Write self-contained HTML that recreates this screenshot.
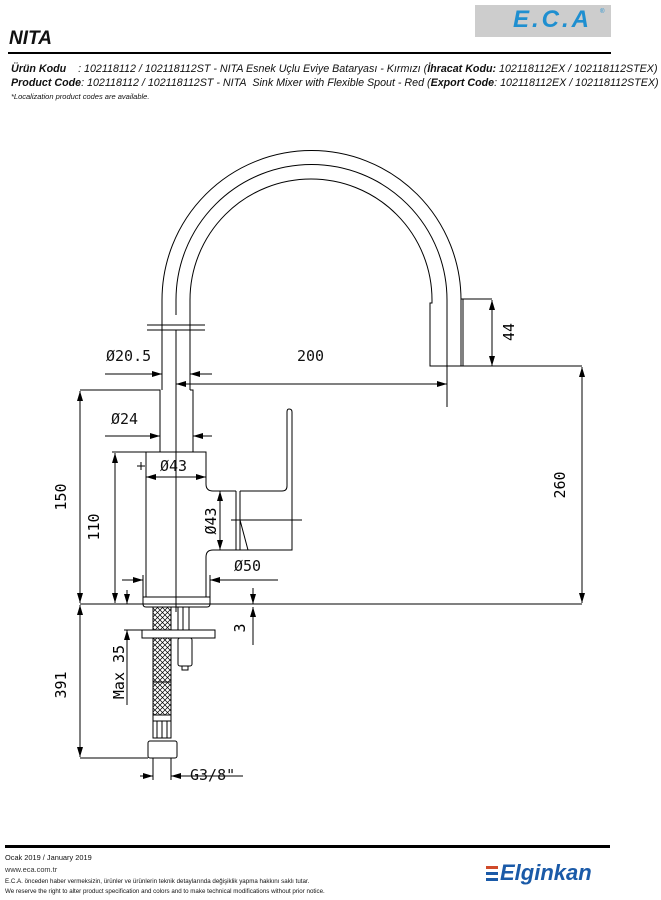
<!DOCTYPE html>
<html><head><meta charset="utf-8"><style>
body{margin:0;width:661px;height:900px;background:#fff;position:relative;overflow:hidden;font-family:"Liberation Sans",sans-serif}
.t{position:absolute;white-space:nowrap;font-style:italic;color:#111}
</style></head><body>
<div style="position:absolute;left:475px;top:5px;width:136px;height:32px;background:#cdcdcd"></div>
<div class="t" style="left:513px;top:6px;font-size:24px;font-weight:bold;color:#1f8fd0;letter-spacing:3px">E.C.A</div>
<div class="t" style="left:600px;top:9px;font-size:6px;color:#1f8fd0">®</div>
<div class="t" style="left:9px;top:28px;font-size:19px;font-weight:bold">NITA</div>
<div style="position:absolute;left:8px;top:52px;width:603px;height:2px;background:#000"></div>
<div class="t" style="left:11px;top:63px;font-size:10.7px"><b>Ürün Kodu</b>&nbsp;&nbsp;&nbsp;&nbsp;: 102118112 / 102118112ST - NITA Esnek Uçlu Eviye Bataryası - Kırmızı (<b>İhracat Kodu:</b> 102118112EX / 102118112STEX)</div>
<div class="t" style="left:11px;top:77px;font-size:10.7px"><b>Product Code</b>: 102118112 / 102118112ST - NITA&nbsp; Sink Mixer with Flexible Spout - Red (<b>Export Code</b>: 102118112EX / 102118112STEX)</div>
<div class="t" style="left:11px;top:92px;font-size:7.5px">*Localization product codes are available.</div>

<svg style="position:absolute;left:0;top:0" width="661" height="900" viewBox="0 0 661 900" fill="none" stroke="#000" stroke-width="1">
<defs>
<marker id="a" viewBox="0 0 10 6" refX="10" refY="3" markerWidth="10" markerHeight="6" orient="auto-start-reverse" markerUnits="userSpaceOnUse"><path d="M0,0L10,3L0,6z" fill="#000" stroke="none"/></marker>
<pattern id="h" width="5" height="5" patternUnits="userSpaceOnUse"><path d="M0,0L5,5M5,0L0,5" stroke="#000" stroke-width="0.7"/></pattern>
</defs>
<path d="M162,390 V300 A149.5,149.5 0 0 1 461,300 V366"/>
<path d="M176,315 V300 A135.5,135.5 0 0 1 447,300 V407"/>
<path d="M190,390 V300 A121,121 0 0 1 432,300 V303 H430 V366 H463 V299 H461"/>
<path d="M147,325 H205 M147,330 H205"/>
<path d="M463,299 H492"/>
<path d="M492,300 V366" marker-start="url(#a)" marker-end="url(#a)"/>
<path d="M176,384 H447" marker-start="url(#a)" marker-end="url(#a)"/>
<path d="M176,330 V612"/>
<path d="M80,390 H160 V452 M162,390 V390 M190,390 H193 V452"/>
<path d="M105,374 H162" marker-end="url(#a)"/><path d="M212,374 H190" marker-end="url(#a)"/>
<path d="M105,436 H160" marker-end="url(#a)"/><path d="M212,436 H193" marker-end="url(#a)"/>
<path d="M112,452 H206 V484 Q206,491 213,491 H236 M146,452 V597 M206,597 V557 Q206,550 213,550 H236"/>
<path d="M146,477 H206" marker-start="url(#a)" marker-end="url(#a)"/>
<path d="M137,466 H145 M141,462 V470"/>
<path d="M220,491 V550" marker-start="url(#a)" marker-end="url(#a)"/>
<path d="M236,491 V550 M240,491 V550 M240,491 H282 Q287,491 287,486 V412 Q287,409 289,409 Q292,409 292,412 V550 H248 L240,520 M236,550 H248"/>
<path d="M231,520 H302"/>
<path d="M143,597 H210 V604 Q210,607 207,607 H146 Q143,607 143,604 Z"/>
<path d="M80,604 H582"/>
<path d="M122,580 H143" marker-end="url(#a)"/><path d="M278,580 H210" marker-end="url(#a)"/>
<path d="M143,575 V597 M210,575 V597"/>
<path d="M115,453 V603" marker-start="url(#a)" marker-end="url(#a)"/>
<path d="M80,391 V603" marker-start="url(#a)" marker-end="url(#a)"/>
<path d="M80,605 V757" marker-start="url(#a)" marker-end="url(#a)"/>
<path d="M80,758 H148"/>
<path d="M463,366 H582"/>
<path d="M582,367 V603" marker-start="url(#a)" marker-end="url(#a)"/>
<path d="M253,588 V604" marker-end="url(#a)"/><path d="M253,645 V607" marker-end="url(#a)"/>
<path d="M127,590 V604" marker-end="url(#a)"/><path d="M127,705 V630" marker-end="url(#a)"/>
<path d="M124,630 H142"/>
<rect x="153" y="607" width="18" height="108" fill="url(#h)"/>
<path d="M153,607 V715 M171,607 V715 M153,682 H171"/>
<rect x="142" y="630" width="73" height="8" fill="#fff"/>
<path d="M178,607 V630 M189,607 V630 M183,607 V630"/>
<rect x="178" y="638" width="14" height="28" rx="2" fill="#fff"/>
<path d="M182,666 V670 H188 V666"/>
<rect x="153" y="715" width="18" height="6"/>
<path d="M153,721 V738 H171 V721 M157,721 V738 M162,721 V738 M167,721 V738"/>
<rect x="148" y="741" width="29" height="17" rx="2"/>
<path d="M153,758 V780 M171,758 V780"/>
<path d="M140,776 H153" marker-end="url(#a)"/><path d="M243,776 H171" marker-end="url(#a)"/>
</svg>
<div class="t" style="left:106px;top:347px;font-size:15px;font-style:normal;font-family:'DejaVu Sans Mono','Liberation Mono',monospace">Ø20.5</div>
<div class="t" style="left:297px;top:347px;font-size:15px;font-style:normal;font-family:'DejaVu Sans Mono','Liberation Mono',monospace">200</div>
<div class="t" style="left:111px;top:410px;font-size:15px;font-style:normal;font-family:'DejaVu Sans Mono','Liberation Mono',monospace">Ø24</div>
<div class="t" style="left:160px;top:457px;font-size:15px;font-style:normal;font-family:'DejaVu Sans Mono','Liberation Mono',monospace">Ø43</div>
<div class="t" style="left:234px;top:557px;font-size:15px;font-style:normal;font-family:'DejaVu Sans Mono','Liberation Mono',monospace">Ø50</div>
<div class="t" style="left:190px;top:766px;font-size:15px;font-style:normal;font-family:'DejaVu Sans Mono','Liberation Mono',monospace">G3/8"</div>
<svg style="position:absolute;left:0;top:0" width="661" height="900" font-family="DejaVu Sans Mono,Liberation Mono,monospace" font-size="15" fill="#000">
<text transform="translate(514,332) rotate(-90)" text-anchor="middle">44</text>
<text transform="translate(565,485) rotate(-90)" text-anchor="middle">260</text>
<text transform="translate(66,497) rotate(-90)" text-anchor="middle">150</text>
<text transform="translate(99,527) rotate(-90)" text-anchor="middle">110</text>
<text transform="translate(216,521) rotate(-90)" text-anchor="middle">Ø43</text>
<text transform="translate(245,628) rotate(-90)" text-anchor="middle">3</text>
<text transform="translate(124,672) rotate(-90)" text-anchor="middle">Max 35</text>
<text transform="translate(66,685) rotate(-90)" text-anchor="middle">391</text>
</svg>

<div style="position:absolute;left:5px;top:845px;width:605px;height:3px;background:#000"></div>
<div class="t" style="left:5px;top:853px;font-size:7.4px;font-style:normal">Ocak 2019 / January 2019</div>
<div class="t" style="left:5px;top:865px;font-size:7.4px;font-style:normal;color:#333">www.eca.com.tr</div>
<div class="t" style="left:5px;top:878px;font-size:6.2px;font-style:normal">E.C.A. önceden haber vermeksizin, ürünler ve ürünlerin teknik detaylarında değişiklik yapma hakkını saklı tutar.</div>
<div class="t" style="left:5px;top:888px;font-size:6.2px;font-style:normal">We reserve the right to alter product specification and colors and to make technical modifications without prior notice.</div>
<div style="position:absolute;left:486px;top:866px;width:12px;height:3px;background:#d04a2a"></div>
<div style="position:absolute;left:486px;top:872px;width:12px;height:3px;background:#1a5aa8"></div>
<div style="position:absolute;left:486px;top:878px;width:12px;height:3px;background:#1a5aa8"></div>
<div class="t" style="left:500px;top:860px;font-size:22px;font-weight:bold;color:#1a5aa8">Elginkan</div>
</body></html>
